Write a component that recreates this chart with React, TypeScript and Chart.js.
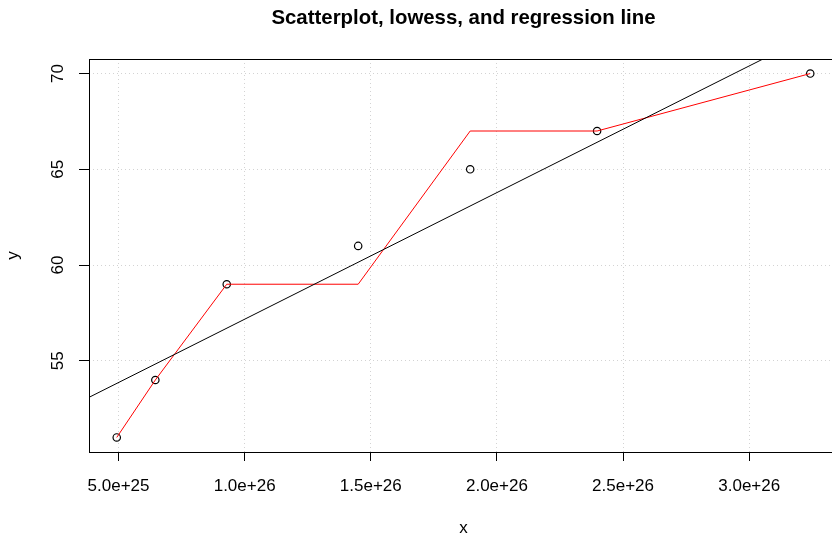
import React, { useEffect, useRef } from "react";
import { Chart, registerables } from "chart.js";

Chart.register(...registerables);

// Data
const xValues = [4.93e25, 6.46e25, 9.29e25, 1.45e26, 1.894e26, 2.397e26, 3.242e26];
const yValues = [51, 54, 59, 61, 65, 67, 70];
const lowessValues = [51, 54, 59, 59, 67, 67, 70];
const xTicks = [5e25, 1e26, 1.5e26, 2e26, 2.5e26, 3e26];
const yTicks = [55, 60, 65, 70];

const titleText = "Scatterplot, lowess, and regression line";
const xLabel = "x";
const yLabel = "y";

const FONT = "'Liberation Sans', Arial, Helvetica, sans-serif";

// axis ranges like R (4% extension)
const xMinData = Math.min(...xValues);
const xMaxData = Math.max(...xValues);
const yMinData = Math.min(...yValues);
const yMaxData = Math.max(...yValues);
const xPad = (xMaxData - xMinData) * 0.04;
const yPad = (yMaxData - yMinData) * 0.04;
const xMin = xMinData - xPad;
const xMax = xMaxData + xPad;
const yMin = yMinData - yPad;
const yMax = yMaxData + yPad;

// least squares regression from the data
function regression(xs: number[], ys: number[]) {
  const n = xs.length;
  const mx = xs.reduce((a, b) => a + b, 0) / n;
  const my = ys.reduce((a, b) => a + b, 0) / n;
  let sxy = 0;
  let sxx = 0;
  for (let i = 0; i < n; i++) {
    sxy += (xs[i] - mx) * (ys[i] - my);
    sxx += (xs[i] - mx) * (xs[i] - mx);
  }
  const b = sxy / sxx;
  return { a: my - b * mx, b };
}

const CANVAS_W = 850;
const CANVAS_H = 538;

export default function App() {
  const ref = useRef<HTMLCanvasElement | null>(null);

  useEffect(() => {
    if (!ref.current) return;
    const reg = regression(xValues, yValues);
    const regLine = [xMin, xMax].map((x) => ({ x, y: reg.a + reg.b * x }));

    const overlay = {
      id: "rOverlay",
      afterDraw(chart: any) {
        const ctx = chart.ctx;
        const area = chart.chartArea;
        ctx.save();
        // frame box
        ctx.strokeStyle = "#000";
        ctx.lineWidth = 1;
        ctx.setLineDash([]);
        ctx.strokeRect(area.left + 0.5, area.top + 0.5, area.right - area.left, area.bottom - area.top);
        // y tick labels (rotated like R)
        const ys = chart.scales.y;
        ctx.fillStyle = "#000";
        ctx.font = `17px ${FONT}`;
        ctx.textAlign = "center";
        ctx.textBaseline = "alphabetic";
        ys.ticks.forEach((t: any) => {
          const py = ys.getPixelForValue(t.value);
          ctx.save();
          ctx.translate(63, py);
          ctx.rotate(-Math.PI / 2);
          ctx.fillText(String(t.value), 0, 0);
          ctx.restore();
        });
        // title
        ctx.font = `bold 20.4px ${FONT}`;
        ctx.textAlign = "center";
        ctx.fillText(titleText, (area.left + area.right) / 2, 24);
        ctx.restore();
      },
    };

    const chart = new Chart(ref.current, {
      type: "scatter",
      data: {
        datasets: [
          {
            label: "regression",
            data: regLine,
            showLine: true,
            borderColor: "#000000",
            borderWidth: 1,
            pointRadius: 0,
            order: 0,
          },
          {
            label: "lowess",
            data: xValues.map((x, i) => ({ x, y: lowessValues[i] })),
            showLine: true,
            borderColor: "#FF0000",
            borderWidth: 1,
            pointRadius: 0,
            order: 1,
          },
          {
            label: "points",
            data: xValues.map((x, i) => ({ x, y: yValues[i] })),
            showLine: false,
            pointStyle: "circle",
            pointRadius: 3.7,
            pointBorderColor: "#000000",
            pointBackgroundColor: "rgba(0,0,0,0)",
            pointBorderWidth: 1.2,
            order: 2,
          },
        ],
      },
      options: {
        responsive: false,
        animation: false,
        devicePixelRatio: 1,
        layout: { padding: { top: 59, right: CANVAS_W - 838, left: 0, bottom: 0 } },
        plugins: {
          legend: { display: false },
          tooltip: { enabled: false },
          title: { display: false },
        },
        scales: {
          x: {
            type: "linear",
            position: "bottom",
            min: xMin,
            max: xMax,
            bounds: "data",
            afterBuildTicks: (s: any) => {
              s.ticks = xTicks.map((v) => ({ value: v }));
            },
            afterFit: (s: any) => {
              s.height = CANVAS_H - 452;
            },
            ticks: {
              color: "#000",
              font: { family: FONT, size: 17 },
              padding: 15,
              maxRotation: 0,
              autoSkip: false,
              callback: (v: any) => Number(v).toExponential(1),
            },
            grid: {
              color: "#D3D3D3",
              lineWidth: 1,
              drawTicks: true,
              tickLength: 9,
              tickColor: "#000",
              tickWidth: 1,
            },
            border: { display: false, dash: [1, 3] },
            title: {
              display: true,
              text: xLabel,
              color: "#000",
              font: { family: FONT, size: 17 },
              padding: { top: 0, bottom: -1 },
            },
          },
          y: {
            type: "linear",
            position: "left",
            min: yMin,
            max: yMax,
            bounds: "data",
            afterBuildTicks: (s: any) => {
              s.ticks = yTicks.map((v) => ({ value: v }));
            },
            afterFit: (s: any) => {
              s.width = 89;
            },
            ticks: { display: false },
            grid: {
              color: "#D3D3D3",
              lineWidth: 1,
              drawTicks: true,
              tickLength: 10,
              tickColor: "#000",
              tickWidth: 1,
            },
            border: { display: false, dash: [1, 3] },
            title: {
              display: true,
              text: yLabel,
              color: "#000",
              font: { family: FONT, size: 17 },
              padding: { top: 3, bottom: 0 },
            },
          },
        },
      },
      plugins: [overlay],
    });
    return () => chart.destroy();
  }, []);

  return (
    <div
      style={{
        position: "fixed",
        left: 0,
        top: 0,
        width: 832,
        height: 538,
        overflow: "hidden",
        background: "#fff",
      }}
    >
      <canvas
        ref={ref}
        width={CANVAS_W}
        height={CANVAS_H}
        style={{ width: CANVAS_W, height: CANVAS_H, display: "block" }}
      />
    </div>
  );
}
